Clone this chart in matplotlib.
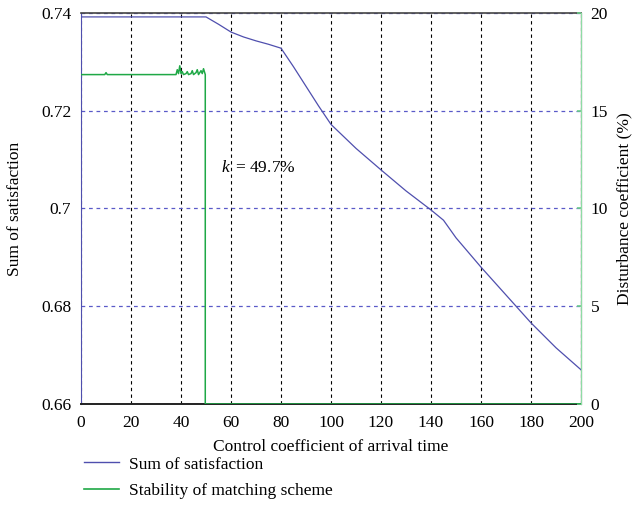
import matplotlib
matplotlib.use('Agg')
import matplotlib.pyplot as plt
from matplotlib.lines import Line2D

plt.rcParams['font.family'] = ['Liberation Serif', 'DejaVu Serif']
plt.rcParams['font.size'] = 12.5
plt.rcParams['mathtext.fontset'] = 'custom'
plt.rcParams['mathtext.it'] = 'Liberation Serif:italic'
plt.rcParams['mathtext.rm'] = 'Liberation Serif'

# --- data ---
sat_x = [0, 50, 55, 60, 65, 70, 75, 80, 85, 90, 95, 100, 110, 120, 130,
         140, 145, 150, 160, 170, 180, 190, 200]
sat_y = [0.7392, 0.7392, 0.7377, 0.7361, 0.7351, 0.7343, 0.7336, 0.7328,
         0.7290, 0.7250, 0.7210, 0.7172, 0.7123, 0.7079, 0.7036, 0.6997,
         0.6976, 0.6940, 0.6880, 0.6823, 0.6766, 0.6715, 0.6670]

stab_x = [0, 9.5, 10, 10.5, 38, 38.5, 39, 39.5, 40, 40.5, 41, 42, 42.5, 43,
          44, 44.5, 45, 46, 46.5, 47, 48, 48.5, 49, 49.7, 49.7, 200]
stab_y = [16.85, 16.85, 16.95, 16.85, 16.85, 17.1, 16.9, 17.3, 16.9, 17.0,
          16.85, 16.9, 17.0, 16.85, 16.9, 17.05, 16.85, 16.95, 17.1, 16.85,
          17.05, 16.9, 17.15, 16.85, 0.0, 0.0]

x_ticks = list(range(0, 201, 20))
left_ticks = [0.66, 0.68, 0.70, 0.72, 0.74]
left_labels = ['0.66', '0.68', '0.7', '0.72', '0.74']
right_ticks = [0, 5, 10, 15, 20]

k_value = 49.7

blue = '#4f4fae'
green = '#1fa846'

fig = plt.figure(figsize=(6.34, 5.31), dpi=100)
ax = fig.add_axes([0.1278, 0.2392, 0.7886, 0.7363])
ax2 = ax.twinx()

ax.plot(sat_x, sat_y, color=blue, lw=0.9, zorder=3)
ax2.plot(stab_x, stab_y, color=green, lw=1.1, zorder=3)

ax.set_xlim(0, 200)
ax.set_ylim(0.66, 0.74)
ax2.set_ylim(0, 20)

ax.set_xticks(x_ticks)
ax.set_yticks(left_ticks)
ax.set_yticklabels(left_labels)
ax2.set_yticks(right_ticks)

ax.tick_params(axis='x', direction='in', length=0, pad=8)
ax.tick_params(axis='y', direction='in', length=0, pad=7)
ax2.tick_params(axis='y', direction='in', length=3, width=1.2, pad=7,
                color='#6ccf8a')

# grid: vertical black dashed, horizontal blue dashed
ax.xaxis.grid(True, color='black', linestyle=(0, (3, 3)), lw=0.8)
ax.yaxis.grid(True, color='#5a5ac8', linestyle=(0, (3, 3)), lw=0.9)
ax.set_axisbelow(True)

ax.spines['left'].set_color(blue)
ax.spines['bottom'].set_color('#222222')
ax.spines['bottom'].set_linewidth(1.4)
ax.spines['top'].set_color('#444444')
ax.spines['top'].set_linewidth(1.2)
ax2.spines['right'].set_color('#8edca4')
ax2.spines['left'].set_visible(False)
ax2.spines['top'].set_visible(False)
ax2.spines['bottom'].set_visible(False)

ax.set_xlabel('Control coefficient of arrival time', labelpad=6)
ax.set_ylabel('Sum of satisfaction', labelpad=13)
ax2.set_ylabel('Disturbance coefficient (%)', labelpad=6)

ax.text(56.0, 0.7083, r'$k\,$ = %.1f%%' % k_value, ha='left', va='center')

handles = [Line2D([], [], color=blue, lw=1.0),
           Line2D([], [], color=green, lw=1.2)]
fig.legend(handles, ['Sum of satisfaction', 'Stability of matching scheme'],
           loc='upper left', bbox_to_anchor=(0.108, 0.17), frameon=False,
           handlelength=2.0, handletextpad=0.6, labelspacing=0.6)

fig.savefig('out.png', dpi=100)
